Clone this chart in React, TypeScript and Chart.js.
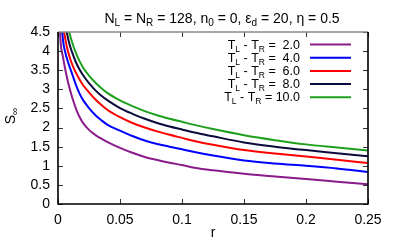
import React, { useEffect, useRef } from 'react';
import { Chart, registerables } from 'chart.js';

Chart.register(...registerables);

const rValues = [0.001, 0.002, 0.004, 0.006, 0.008, 0.01, 0.0125, 0.015, 0.0175, 0.02, 0.025, 0.03, 0.035, 0.04, 0.05, 0.06, 0.07, 0.08, 0.09, 0.1, 0.11, 0.125, 0.15, 0.175, 0.2, 0.225, 0.25];
const sDT2 = [5.2, 4.3, 3.85, 3.5, 3.2, 2.95, 2.68, 2.45, 2.27, 2.13, 1.94, 1.81, 1.71, 1.62, 1.47, 1.34, 1.23, 1.15, 1.08, 1.02, 0.95, 0.88, 0.79, 0.72, 0.655, 0.585, 0.515];
const sDT4 = [6.0, 5.2, 4.3, 3.95, 3.72, 3.53, 3.3, 3.07, 2.88, 2.73, 2.51, 2.33, 2.19, 2.07, 1.92, 1.78, 1.66, 1.57, 1.5, 1.43, 1.36, 1.27, 1.14, 1.06, 1.0, 0.93, 0.84];
const sDT6 = [6.5, 5.7, 4.75, 4.3, 4.0, 3.78, 3.57, 3.4, 3.25, 3.12, 2.92, 2.74, 2.59, 2.46, 2.27, 2.12, 2.0, 1.9, 1.81, 1.73, 1.65, 1.55, 1.41, 1.32, 1.24, 1.16, 1.07];
const sDT8 = [7.0, 6.2, 5.2, 4.7, 4.35, 4.1, 3.87, 3.67, 3.51, 3.38, 3.16, 2.98, 2.83, 2.71, 2.51, 2.36, 2.23, 2.12, 2.03, 1.95, 1.87, 1.77, 1.61, 1.50, 1.41, 1.33, 1.25];
const sDT10 = [7.5, 6.6, 5.6, 5.05, 4.65, 4.38, 4.12, 3.91, 3.73, 3.58, 3.36, 3.18, 3.03, 2.9, 2.71, 2.56, 2.43, 2.32, 2.23, 2.15, 2.07, 1.96, 1.80, 1.67, 1.56, 1.48, 1.40];

const deltaTLabels = [' 2.0', ' 4.0', ' 6.0', ' 8.0', '10.0'];
const seriesColors = ['#8b1a8b', '#0000ff', '#ff0000', '#0a0a3c', '#1ea01e'];

const xTicks = [0, 0.05, 0.1, 0.15, 0.2, 0.25];
const xTickLabels = ['0', '0.05', '0.1', '0.15', '0.2', '0.25'];
const yTicks = [0, 0.5, 1, 1.5, 2, 2.5, 3, 3.5, 4, 4.5];
const yTickLabels = ['0', '0.5', '1', '1.5', '2', '2.5', '3', '3.5', '4', '4.5'];

const FONT = '"Liberation Sans", Arial, sans-serif';
const FS = 14;
const SUB = 10;

type Seg = { t: string; sub?: boolean };

function richWidth(ctx: CanvasRenderingContext2D, segs: Seg[], size: number, sub: number) {
  let w = 0;
  for (const s of segs) {
    ctx.font = `${s.sub ? sub : size}px ${FONT}`;
    w += ctx.measureText(s.t).width;
  }
  return w;
}

function drawRich(ctx: CanvasRenderingContext2D, segs: Seg[], x: number, y: number, size: number, sub: number, align: 'left' | 'center' | 'right') {
  const w = richWidth(ctx, segs, size, sub);
  let cx = align === 'left' ? x : align === 'center' ? x - w / 2 : x - w;
  ctx.textAlign = 'left';
  ctx.textBaseline = 'alphabetic';
  for (const s of segs) {
    ctx.font = `${s.sub ? sub : size}px ${FONT}`;
    ctx.fillText(s.t, cx, s.sub ? y + 3 : y);
    cx += ctx.measureText(s.t).width;
  }
}

const decorPlugin = {
  id: 'decor',
  afterDatasetsDraw(chart: any) {
    const ctx: CanvasRenderingContext2D = chart.ctx;
    const { left, right, top, bottom } = chart.chartArea;
    const xs = chart.scales.x;
    const ys = chart.scales.y;
    ctx.save();
    // ticks
    ctx.strokeStyle = '#333';
    ctx.lineWidth = 1;
    ctx.beginPath();
    for (const v of xTicks) {
      const px = Math.round(xs.getPixelForValue(v)) + 0.5;
      ctx.moveTo(px, bottom);
      ctx.lineTo(px, bottom - 5);
      ctx.moveTo(px, top);
      ctx.lineTo(px, top + 5);
    }
    for (const v of yTicks) {
      const py = Math.round(ys.getPixelForValue(v)) + 0.5;
      ctx.moveTo(left, py);
      ctx.lineTo(left + 5, py);
      ctx.moveTo(right, py);
      ctx.lineTo(right - 5, py);
    }
    ctx.stroke();
    // border
    ctx.strokeStyle = '#8a8a8a';
    ctx.lineWidth = 1.5;
    ctx.beginPath();
    ctx.moveTo(left, top);
    ctx.lineTo(right, top);
    ctx.stroke();
    ctx.strokeStyle = '#000';
    ctx.lineWidth = 1.6;
    ctx.beginPath();
    ctx.moveTo(right, top);
    ctx.lineTo(right, bottom);
    ctx.lineTo(left, bottom);
    ctx.lineTo(left, top);
    ctx.stroke();

    // title
    ctx.fillStyle = '#000';
    const title: Seg[] = [
      { t: 'N' }, { t: 'L', sub: true }, { t: ' = N' }, { t: 'R', sub: true },
      { t: ' = 128, n' }, { t: '0', sub: true }, { t: ' = 0, ε' }, { t: 'd', sub: true },
      { t: ' = 20, η = 0.5' },
    ];
    drawRich(ctx, title, 222, 23, FS, SUB, 'center');

    // legend
    chart.data.datasets.forEach((ds: any, i: number) => {
      const cy = 44.5 + i * 13.2;
      const segs: Seg[] = [
        { t: 'T' }, { t: 'L', sub: true }, { t: ' - T' }, { t: 'R', sub: true },
        { t: ' = ' + (deltaTLabels[i].startsWith(' ') ? ' ' : '') + deltaTLabels[i].trim() },
      ];
      ctx.fillStyle = '#000';
      drawRich(ctx, segs, 300, cy + 4, 12.5, 8.5, 'right');
      ctx.strokeStyle = ds.borderColor;
      ctx.lineWidth = 2;
      ctx.beginPath();
      ctx.moveTo(310, cy);
      ctx.lineTo(351, cy);
      ctx.stroke();
    });

    // axis titles
    ctx.fillStyle = '#000';
    ctx.font = `${FS}px ${FONT}`;
    ctx.textAlign = 'center';
    ctx.textBaseline = 'alphabetic';
    ctx.fillText('r', (left + right) / 2, 237);

    ctx.save();
    ctx.translate(15, 116);
    ctx.rotate(-Math.PI / 2);
    drawRich(ctx, [{ t: 'S' }, { t: '∞', sub: true }], 0, 0, FS, SUB, 'center');
    ctx.restore();

    ctx.restore();
  },
};

export default function App() {
  const ref = useRef<HTMLCanvasElement | null>(null);
  useEffect(() => {
    if (!ref.current) return;
    const series = [sDT2, sDT4, sDT6, sDT8, sDT10];
    const chart = new Chart(ref.current, {
      type: 'line',
      data: {
        datasets: series.map((s, i) => ({
          label: 'T_L - T_R = ' + deltaTLabels[i],
          data: rValues.map((r, j) => ({ x: r, y: s[j] })),
          borderColor: seriesColors[i],
          backgroundColor: seriesColors[i],
          borderWidth: 2,
          pointRadius: 0,
          fill: false,
          cubicInterpolationMode: 'monotone' as const,
          clip: 0,
        })),
      },
      options: {
        animation: false,
        responsive: false,
        events: [],
        layout: { padding: { top: 32, right: 27, left: 0, bottom: 0 } },
        plugins: { legend: { display: false }, title: { display: false }, tooltip: { enabled: false } },
        scales: {
          x: {
            type: 'linear',
            min: 0,
            max: 0.25,
            grid: { display: false, drawTicks: false },
            border: { display: false },
            afterBuildTicks: (s: any) => { s.ticks = xTicks.map((v) => ({ value: v })); },
            afterFit: (s: any) => { s.height = 37; },
            ticks: {
              padding: 8,
              maxRotation: 0,
              autoSkip: false,
              color: '#000',
              font: { family: FONT, size: FS },
              callback: (_v: any, i: number) => xTickLabels[i],
            },
          },
          y: {
            type: 'linear',
            min: 0,
            max: 4.5,
            grid: { display: false, drawTicks: false },
            border: { display: false },
            afterBuildTicks: (s: any) => { s.ticks = yTicks.map((v) => ({ value: v })); },
            afterFit: (s: any) => { s.width = 58; },
            ticks: {
              padding: 8,
              autoSkip: false,
              color: '#000',
              font: { family: FONT, size: FS },
              callback: (_v: any, i: number) => yTickLabels[i],
            },
          },
        },
      },
      plugins: [decorPlugin],
    });
    return () => chart.destroy();
  }, []);
  return (
    <div style={{ position: 'fixed', left: 0, top: 0, width: 395, height: 241, background: '#fff' }}>
      <canvas ref={ref} width={395} height={241} style={{ width: 395, height: 241 }} />
    </div>
  );
}
